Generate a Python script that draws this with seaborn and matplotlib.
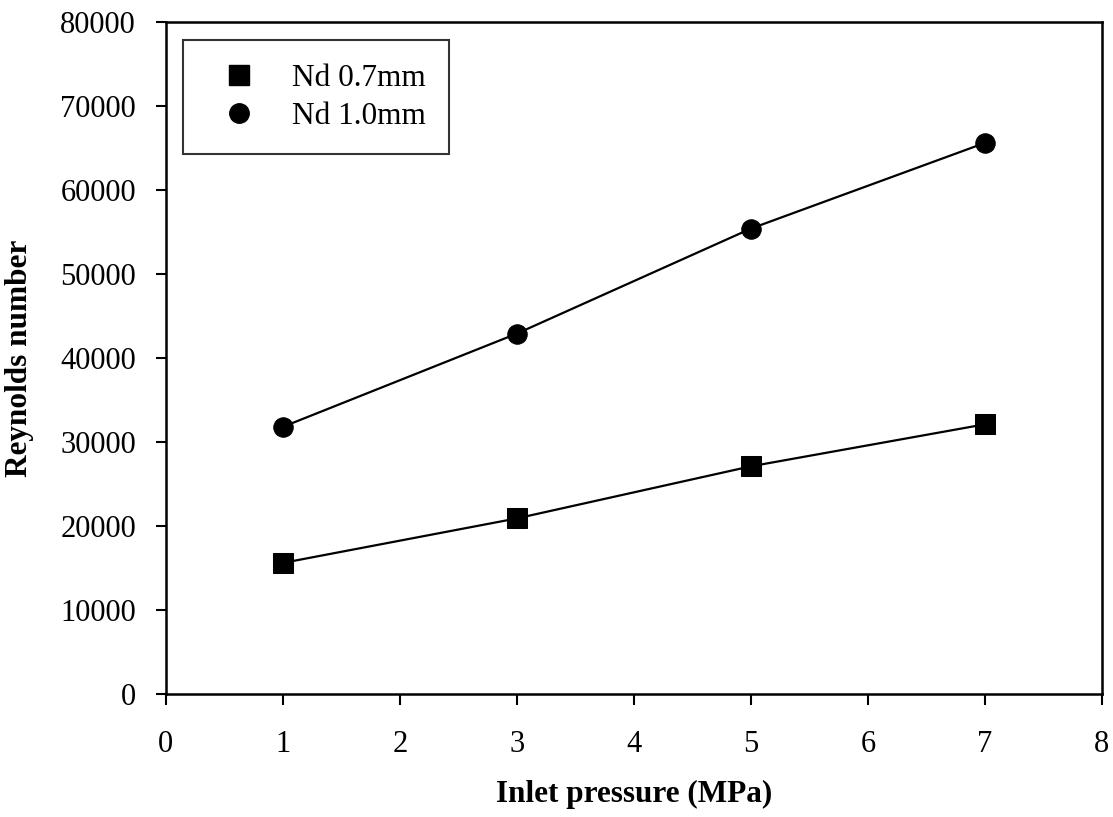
import seaborn as sns
import matplotlib.pyplot as plt
import pandas as pd

# inlet pressure (MPa)
pressure = [1, 3, 5, 7]
# Reynolds number per nozzle diameter
re_07 = [15600, 20900, 27100, 32100]
re_10 = [31800, 42900, 55400, 65600]
labels = ["Nd 0.7mm", "Nd 1.0mm"]

df = pd.DataFrame({
    "Inlet pressure (MPa)": pressure * 2,
    "Reynolds number": re_07 + re_10,
    "series": [labels[0]] * 4 + [labels[1]] * 4,
})

sns.set_style("ticks")
plt.rcParams['font.family'] = ['Liberation Serif', 'DejaVu Serif']
plt.rcParams['text.color'] = 'black'
plt.rcParams['axes.labelcolor'] = 'black'
plt.rcParams['xtick.color'] = 'black'
plt.rcParams['ytick.color'] = 'black'

fig = plt.figure(figsize=(11.13, 8.17), dpi=100)
ax = fig.add_axes([0.149, 0.1506, 0.841, 0.8225])

sns.lineplot(data=df, x="Inlet pressure (MPa)", y="Reynolds number", hue="series",
             style="series", markers=["s", "o"], dashes=False,
             palette=["black", "black"], markersize=14, linewidth=1.6,
             markeredgecolor="black", ax=ax, legend=False)

# legend: markers only
h1, = ax.plot([], [], "s", color="black", markersize=14, label=labels[0])
h2, = ax.plot([], [], "o", color="black", markersize=14, label=labels[1])
leg = ax.legend(handles=[h1, h2], loc="upper left", bbox_to_anchor=(0.0182, 0.973),
                fontsize=22.5, frameon=True, fancybox=False, edgecolor="black",
                borderpad=0.75, handletextpad=0.66, labelspacing=0.3,
                borderaxespad=0, handlelength=2.08)
leg.get_frame().set_linewidth(1.5)
for t in leg.get_texts():
    t.set_color("black")

ax.set_xlim(0, 8)
ax.set_ylim(0, 80000)
ax.set_xticks(range(0, 9))
ax.set_yticks(range(0, 80001, 10000))
ax.tick_params(labelsize=22, direction="out", width=1.5, color="black", labelcolor="black")
ax.tick_params(axis="x", length=8, pad=18)
ax.tick_params(axis="y", length=7.5, pad=14)
for s in ax.spines.values():
    s.set_linewidth(1.8)
    s.set_color("black")
ax.set_xlabel("Inlet pressure (MPa)", fontsize=22.5, fontweight="bold", labelpad=15)
ax.set_ylabel("Reynolds number", fontsize=22.5, fontweight="bold", labelpad=19)

fig.savefig("out.png", dpi=100)
